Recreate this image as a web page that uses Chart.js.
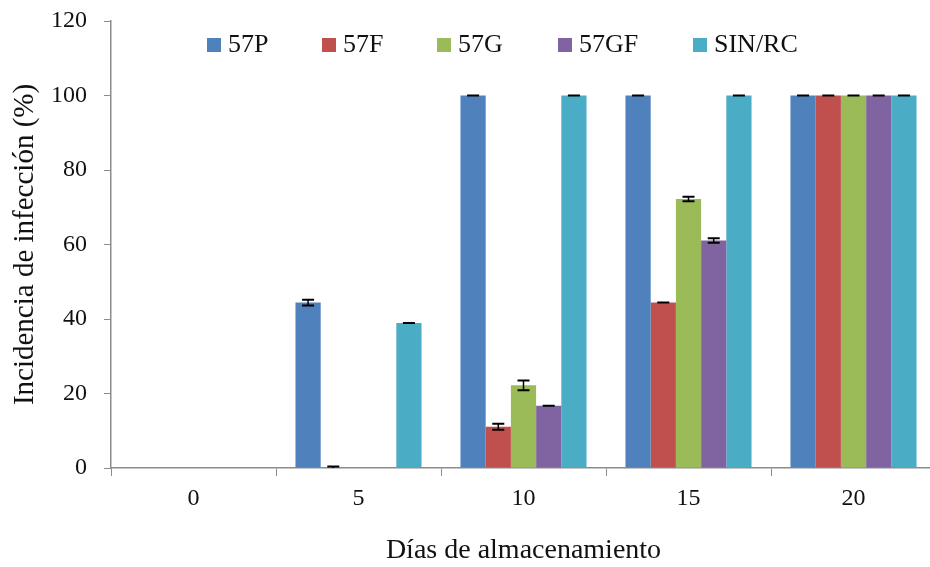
<!DOCTYPE html>
<html>
<head>
<meta charset="utf-8">
<script src="https://cdn.jsdelivr.net/npm/chart.js@4.4.1/dist/chart.umd.min.js"></script>
<style>
  html, body { margin: 0; padding: 0; background: #ffffff; overflow: hidden; }
  #wrap { width: 937px; height: 567px; position: relative; }
</style>
</head>
<body>
<div id="wrap"><canvas id="chart"></canvas></div>
<script>
// Storage days on the x axis
const days = ['0', '5', '10', '15', '20'];
const seriesNames = ['57P', '57F', '57G', '57GF', 'SIN/RC'];

// Infection incidence (%) per treatment
const inc57P  = [0, 44.4, 100, 100, 100];
const inc57F  = [0, 0, 11.1, 44.4, 100];
const inc57G  = [0, 0, 22.2, 72.2, 100];
const inc57GF = [0, 0, 16.7, 61.1, 100];
const incSIN  = [0, 38.9, 100, 100, 100];

// Standard error per bar (null: no error bar drawn)
const err57P  = [null, 0.8, 0, 0, 0];
const err57F  = [null, 0.4, 0.8, 0, 0];
const err57G  = [null, null, 1.3, 0.6, 0];
const err57GF = [null, null, 0, 0.6, 0];
const errSIN  = [null, 0, 0, 0, 0];

const yTicks = [0, 20, 40, 60, 80, 100, 120];

const colors = ['#4F81BD', '#C0504D', '#9BBB59', '#8064A2', '#4BACC6'];
const serif = "'Liberation Serif', 'Times New Roman', serif";

const values = [inc57P, inc57F, inc57G, inc57GF, incSIN];
const errors = [err57P, err57F, err57G, err57GF, errSIN];

const datasets = seriesNames.map((name, i) => ({
  label: name,
  data: values[i],
  errors: errors[i],
  backgroundColor: colors[i],
  borderWidth: 0,
  categoryPercentage: 0.764,
  barPercentage: 1.0
}));

// Vertical error bars with caps, placed through the value scale
const errorBars = {
  id: 'errorBars',
  afterDatasetsDraw(chart) {
    const ctx = chart.ctx;
    const y = chart.scales.y;
    ctx.save();
    ctx.strokeStyle = '#000000';
    chart.data.datasets.forEach((ds, i) => {
      const meta = chart.getDatasetMeta(i);
      meta.data.forEach((bar, j) => {
        const e = ds.errors[j];
        if (e === null || e === undefined) return;
        const v = ds.data[j];
        const top = y.getPixelForValue(v + e);
        const bot = y.getPixelForValue(Math.max(v - e, 0));
        const half = 6;
        ctx.lineWidth = 1.5;
        ctx.beginPath();
        ctx.moveTo(bar.x, top);
        ctx.lineTo(bar.x, bot);
        ctx.stroke();
        ctx.lineWidth = 2;
        ctx.beginPath();
        ctx.moveTo(bar.x - half, top);
        ctx.lineTo(bar.x + half, top);
        if (v - e >= 0) {
          ctx.moveTo(bar.x - half, bot);
          ctx.lineTo(bar.x + half, bot);
        }
        ctx.stroke();
      });
    });
    ctx.restore();
  }
};

// Single-row legend across the top of the plot
const topLegend = {
  id: 'topLegend',
  afterDraw(chart, args, opts) {
    const ctx = chart.ctx;
    ctx.save();
    ctx.font = opts.fontSize + 'px ' + serif;
    ctx.textBaseline = 'alphabetic';
    ctx.textAlign = 'left';
    chart.data.datasets.forEach((ds, i) => {
      const x = opts.xs[i];
      ctx.fillStyle = ds.backgroundColor;
      ctx.fillRect(x, opts.boxTop, opts.box, opts.box);
      ctx.fillStyle = '#111111';
      ctx.fillText(ds.label, x + opts.box + opts.gap, opts.baseline);
    });
    ctx.restore();
  }
};

new Chart(document.getElementById('chart'), {
  type: 'bar',
  data: { labels: days, datasets },
  plugins: [errorBars, topLegend],
  options: {
    responsive: true,
    maintainAspectRatio: false,
    animation: false,
    layout: { padding: { top: 21, right: 1, left: 0, bottom: 0 } },
    plugins: {
      legend: { display: false },
      tooltip: { enabled: false },
      topLegend: { xs: [207, 322, 437, 558, 693], boxTop: 38, box: 14, gap: 7, baseline: 52, fontSize: 26 }
    },
    scales: {
      x: {
        offset: true,
        grid: {
          offset: true,
          drawOnChartArea: false,
          drawTicks: true,
          tickLength: 8,
          color: '#8c8c8c'
        },
        border: { display: true, color: '#8c8c8c', width: 1.5 },
        ticks: {
          color: '#111111',
          font: { family: serif, size: 24 },
          padding: 8,
          maxRotation: 0
        },
        title: {
          display: true,
          text: 'Días de almacenamiento',
          color: '#111111',
          font: { family: serif, size: 28 },
          padding: { top: 0, bottom: 0 }
        },
        afterFit(scale) {
          scale.height = 99;
          scale.paddingLeft = 0;
          scale.paddingRight = 0;
        }
      },
      y: {
        min: 0,
        max: 120,
        afterBuildTicks(scale) { scale.ticks = yTicks.map(v => ({ value: v })); },
        grid: {
          drawOnChartArea: false,
          drawTicks: true,
          tickLength: 7,
          color: '#8c8c8c'
        },
        border: { display: true, color: '#8c8c8c', width: 1.5 },
        ticks: {
          color: '#111111',
          font: { family: serif, size: 24 },
          padding: 17
        },
        title: {
          display: true,
          text: 'Incidencia de infección (%)',
          color: '#111111',
          font: { family: serif, size: 29 },
          padding: { top: 8, bottom: 0 }
        },
        afterFit(scale) {
          scale.width = 111;
          scale.paddingTop = 0;
          scale.paddingBottom = 0;
        }
      }
    }
  }
});
</script>
</body>
</html>
